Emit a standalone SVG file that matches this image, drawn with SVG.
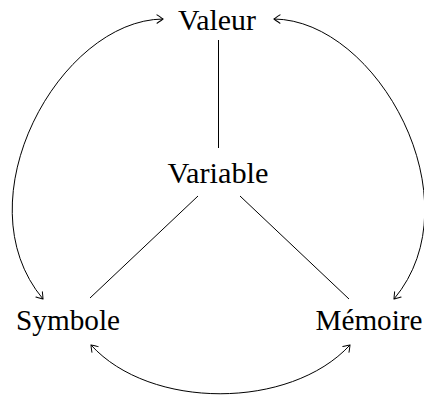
<svg xmlns="http://www.w3.org/2000/svg" width="424" height="396" viewBox="0 0 424 396">
  <style>
    .lbl { font-family: "Liberation Serif", "DejaVu Serif", serif; font-size: 29px; fill: #000; text-anchor: middle; }
    .edge { fill: none; stroke: #000; stroke-width: 1; }
  </style>
  <defs>
    <marker id="arr" viewBox="-7 -5 8 10" markerWidth="8" markerHeight="10" refX="0" refY="0" orient="auto-start-reverse" markerUnits="userSpaceOnUse">
      <path d="M -6 -4.2 Q -1.5 -1.2 0 0 Q -1.5 1.2 -6 4.2" fill="none" stroke="#000" stroke-width="1" stroke-linecap="round"/>
    </marker>
  </defs>
  <rect width="424" height="396" fill="#fff"/>
  <g id="connectors">
    <line class="edge" x1="218.5" y1="40" x2="218.5" y2="148"/>
    <line class="edge" x1="198" y1="196" x2="90" y2="298"/>
    <line class="edge" x1="240" y1="196" x2="349" y2="299"/>
    <path class="edge" d="M 163 19 C 60 20 -40 200 43 299" marker-start="url(#arr)" marker-end="url(#arr)"/>
    <path class="edge" d="M 274 19 C 377 20 477 200 394 299" marker-start="url(#arr)" marker-end="url(#arr)"/>
    <path class="edge" d="M 91 345 C 150 410 290 410 350 345" marker-start="url(#arr)" marker-end="url(#arr)"/>
  </g>
  <g id="valeur"><text class="lbl" x="217" y="30" textLength="78" lengthAdjust="spacingAndGlyphs">Valeur</text></g>
  <g id="variable"><text class="lbl" x="218" y="183" textLength="101" lengthAdjust="spacingAndGlyphs">Variable</text></g>
  <g id="symbole"><text class="lbl" x="68" y="330" textLength="104" lengthAdjust="spacingAndGlyphs">Symbole</text></g>
  <g id="memoire"><text class="lbl" x="369" y="330" textLength="107" lengthAdjust="spacingAndGlyphs">Mémoire</text></g>
</svg>
